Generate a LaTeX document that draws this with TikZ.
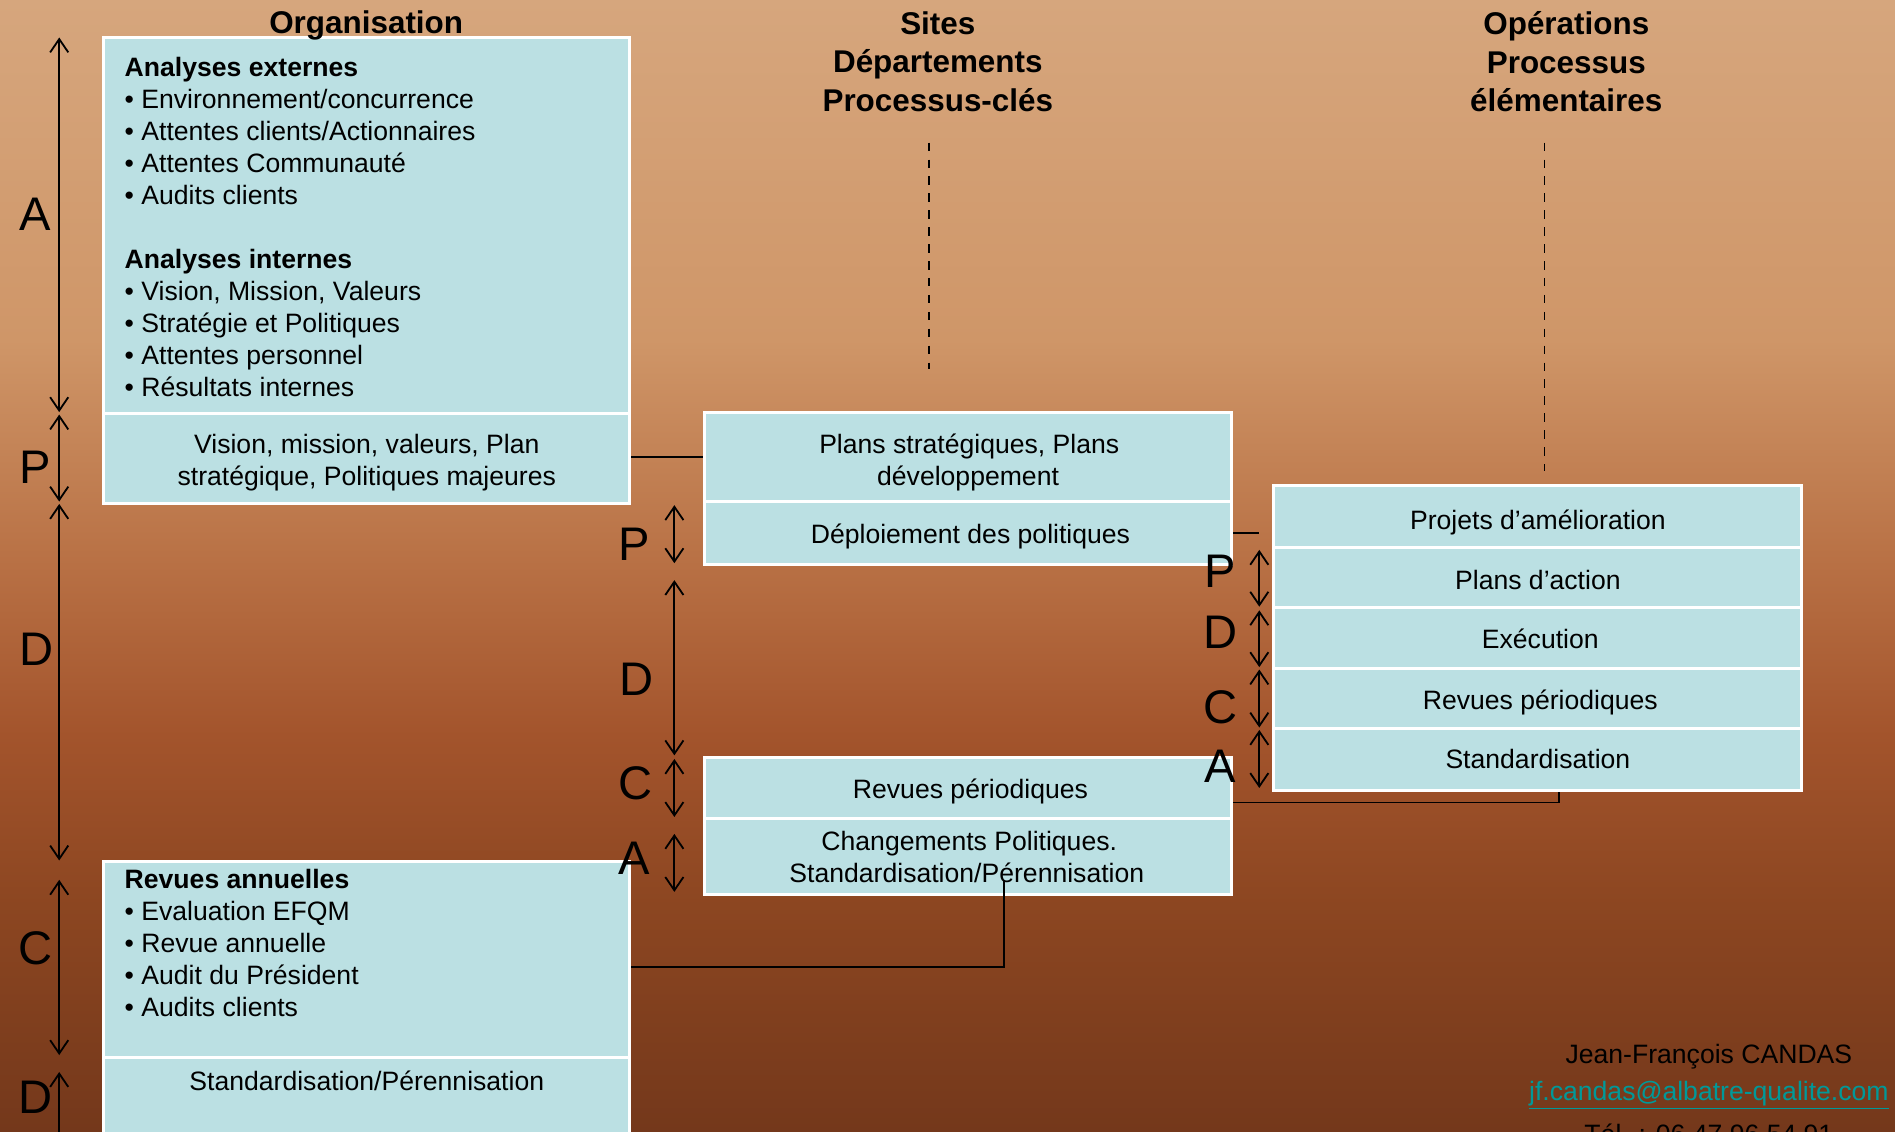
\documentclass[tikz,border=0pt]{standalone}
\usepackage{fontspec}
\setmainfont{Liberation Sans}
\usetikzlibrary{arrows.meta,calc}
\definecolor{cellblue}{RGB}{187,224,227}
\definecolor{bgtop}{RGB}{214,166,125}
\definecolor{bga}{RGB}{207,150,104}
\definecolor{bgb}{RGB}{184,112,68}
\definecolor{bgc}{RGB}{163,84,44}
\definecolor{bgd}{RGB}{140,70,33}
\definecolor{bgbot}{RGB}{116,56,27}
\definecolor{mailteal}{RGB}{0,153,153}
\pgfdeclareverticalshading{bgshade}{100bp}{color(0bp)=(bgbot); color(25bp)=(bgbot); color(35bp)=(bgd); color(42.5bp)=(bgc); color(50bp)=(bgb); color(60bp)=(bga); color(75bp)=(bgtop); color(100bp)=(bgtop)}
\newcommand\txtbody{\fontsize{22}{26.5}\selectfont}
\newcommand\txthead{\fontsize{26}{32}\selectfont\bfseries}
\newcommand\txtletter{\fontsize{39}{42}\selectfont}
\tikzset{
  cell/.style={fill=cellblue, draw=white, line width=2.5pt, inner sep=0pt},
  celltext/.style={anchor=base, font=\txtbody, inner sep=0pt, text=black},
  listtext/.style={anchor=north west, align=left, font=\txtbody, inner sep=0pt},
  heading/.style={align=center, font=\txthead, inner sep=0pt},
  pdca/.style={font=\txtletter, inner sep=0pt},
  dimarrow/.style={{Straight Barb[length=11pt,width=15pt]}-{Straight Barb[length=11pt,width=15pt]}, line width=1.5pt},
  link/.style={line width=1.5pt},
  guide/.style={line width=1.5pt, dash pattern=on 7pt off 7pt},
  footer/.style={font=\txtbody, inner sep=0pt}
}
\begin{document}
\begin{tikzpicture}[x=1pt,y=-1pt]
\useasboundingbox (0,0) rectangle (1568,936);
\clip (0,0) rectangle (1568,936);
\shade[shading=bgshade] (0,0) rectangle (1568,936);

% guides
\coordinate (g1a) at (769,118); \coordinate (g1b) at (769,305);
\coordinate (g2a) at (1278,118); \coordinate (g2b) at (1278,390);
\draw[guide] (g1a) -- (g1b);
\draw[guide] (g2a) -- (g2b);

% Organisation top
\node[cell, minimum width=435pt, minimum height=311pt] (ext) at (303.5,186.5) {};
\node[listtext] (exttxt) at (103,47) {\textbf{Analyses externes}\\
• Environnement/concurrence\\
• Attentes clients/Actionnaires\\
• Attentes Communauté\\
• Audits clients\\[26.5pt]
\textbf{Analyses internes}\\
• Vision, Mission, Valeurs\\
• Stratégie et Politiques\\
• Attentes personnel\\
• Résultats internes};
\node[cell, minimum width=435pt, minimum height=75pt] (vis) at (303.5,379.5) {};
\node[celltext] (vis1) at (303.5,375) {Vision, mission, valeurs, Plan};
\node[celltext] (vis2) at (303.5,402) {stratégique, Politiques majeures};

% headings (drawn over the box edge)
\node[heading] (h1) at (303,21) {Organisation};
\node[heading] (h2) at (776,51) {Sites\\Départements\\Processus-clés};
\node[heading] (h3) at (1296,51) {Opérations\\Processus\\élémentaires};

% Sites
\node[cell, minimum width=436pt, minimum height=74pt] (plans) at (801,378) {};
\node[celltext] (plans1) at (802,375) {Plans stratégiques, Plans};
\node[celltext] (plans2) at (801,402) {développement};
\node[cell, minimum width=436pt, minimum height=52pt] (depl) at (801,441) {};
\node[celltext] (depltxt) at (803,450) {Déploiement des politiques};
\node[cell, minimum width=436pt, minimum height=50pt] (rev) at (801,652) {};
\node[celltext] (revtxt) at (803,661) {Revues périodiques};
\node[cell, minimum width=436pt, minimum height=63pt] (chg) at (801,708.5) {};
\node[celltext] (chg1) at (802,704) {Changements Politiques.};
\node[celltext] (chg2) at (800,730) {Standardisation/Pérennisation};

% Operations
\node[cell, minimum width=437pt, minimum height=51pt] (op1) at (1272.5,427.5) {};
\node[cell, minimum width=437pt, minimum height=50pt] (op2) at (1272.5,478) {};
\node[cell, minimum width=437pt, minimum height=50pt] (op3) at (1272.5,528) {};
\node[cell, minimum width=437pt, minimum height=50pt] (op4) at (1272.5,578) {};
\node[cell, minimum width=437pt, minimum height=51pt] (op5) at (1272.5,628.5) {};
\node[celltext] (op1txt) at (1272.5,438) {Projets d’amélioration};
\node[celltext] (op2txt) at (1272.5,488) {Plans d’action};
\node[celltext] (op3txt) at (1274.5,537) {Exécution};
\node[celltext] (op4txt) at (1274.5,587) {Revues périodiques};
\node[celltext] (op5txt) at (1272.5,636) {Standardisation};

% Organisation bottom
\node[cell, minimum width=435pt, minimum height=162pt] (ann) at (303.5,794) {};
\node[listtext] (anntxt) at (103,719) {\textbf{Revues annuelles}\\
• Evaluation EFQM\\
• Revue annuelle\\
• Audit du Président\\
• Audits clients};
\node[cell, minimum width=435pt, minimum height=85pt] (std) at (303.5,917.5) {};
\node[celltext] (stdtxt) at (303.5,902) {Standardisation/Pérennisation};

% connectors
\draw[link] (vis.east |- plans.west) -- (plans.west);
\coordinate (stub) at (1042,441);
\draw[link] (depl.east) -- (stub);
\coordinate (revout) at ($(rev.east)+(0,12)$);
\coordinate (opin) at ($(op5.south)+(17.5,0)$);
\draw[link] (revout) -| (opin);
\coordinate (annout) at ($(ann.east)+(0,6)$);
\coordinate (chgin) at ($(chg.south)+(30,-13)$);
\draw[link] (annout) -| (chgin);

% PDCA left
\draw[dimarrow] (49,31) -- (49,341);
\draw[dimarrow] (49,343) -- (49,415);
\draw[dimarrow] (49,417) -- (49,712);
\draw[dimarrow] (49,728) -- (49,873);
\draw[dimarrow] (49,887) -- (49,960);
\node[pdca] (la) at (29,177) {A};
\node[pdca] (lp) at (29,387) {P};
\node[pdca] (ld) at (30,537) {D};
\node[pdca] (lc) at (29,785) {C};
\node[pdca] (ld2) at (29,908) {D};

% PDCA middle
\draw[dimarrow] (558,418) -- (558,466);
\draw[dimarrow] (558,480) -- (558,625);
\draw[dimarrow] (558,628) -- (558,676);
\draw[dimarrow] (558,690) -- (558,738);
\node[pdca] (mp) at (525,450) {P};
\node[pdca] (md) at (527,562) {D};
\node[pdca] (mc) at (526,648) {C};
\node[pdca] (ma) at (525,710) {A};

% PDCA right
\draw[dimarrow] (1042,455) -- (1042,502);
\draw[dimarrow] (1042,505) -- (1042,552);
\draw[dimarrow] (1042,554) -- (1042,602);
\draw[dimarrow] (1042,604) -- (1042,652);
\node[pdca] (rp) at (1010,473) {P};
\node[pdca] (rd) at (1010,523) {D};
\node[pdca] (rc) at (1010,585) {C};
\node[pdca] (ra) at (1010,634) {A};

% footer
\node[footer] (author) at (1414,874) {Jean-François CANDAS};
\node[footer, text=mailteal] (mail) at (1414,906) {\underline{jf.candas@albatre-qualite.com}};
\node[footer] (tel) at (1414,938) {Tél. : 06 47 96 54 91};
\end{tikzpicture}
\end{document}
